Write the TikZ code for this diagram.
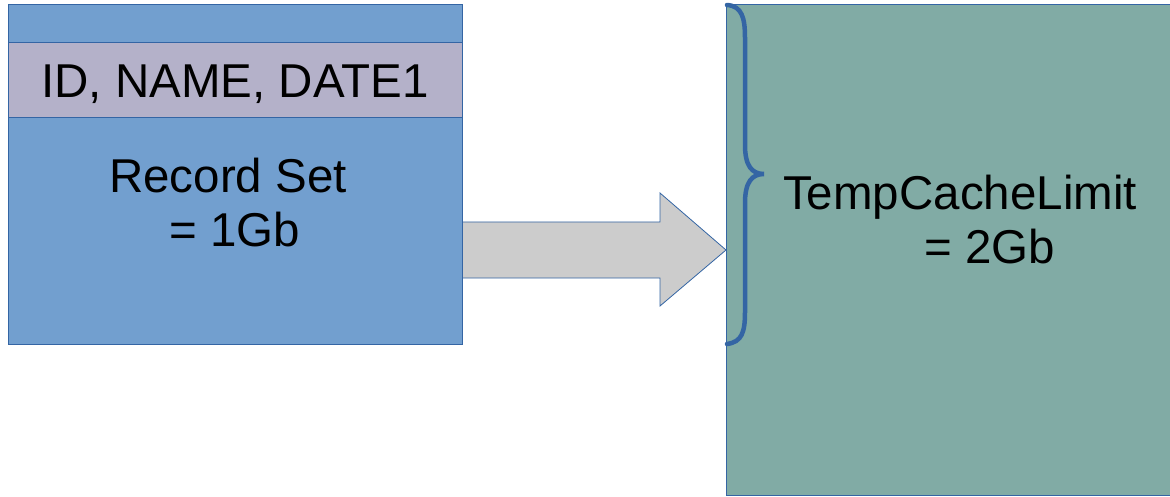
\documentclass[tikz,border=0pt]{standalone}
\usepackage{fontspec}
\setmainfont{Liberation Sans}
\begin{document}
\begin{tikzpicture}[x=1pt,y=-1pt,
  edge/.style={draw=edgeblue, line width=1pt},
  blockbox/.style={edge, rectangle, inner sep=0pt, anchor=north west},
  label/.style={font=\fontsize{47.5}{54}\selectfont, text=black, align=center, inner sep=0pt}]
\definecolor{edgeblue}{HTML}{3465A4}
\definecolor{setblue}{HTML}{729FCF}
\definecolor{headgray}{HTML}{B4B1C9}
\definecolor{cachegreen}{HTML}{81ABA5}
\definecolor{arrowgray}{HTML}{CCCCCC}
\useasboundingbox (0,0) rectangle (1170,497);

% record set block with its column header band
\node[blockbox, fill=setblue, minimum width=454pt, minimum height=340pt] (rs) at (8,4) {};
\node[blockbox, fill=headgray, minimum width=454pt, minimum height=75pt] (hdr) at (8,42) {};
\node[label, anchor=base] (hdrtxt) at (235,98) {ID, NAME, DATE1};
\node[label, anchor=base] (rstxt1) at (228,193) {Record Set};
\node[label, anchor=base] (rstxt2) at (235,247) {= 1Gb};

% temp cache block (runs past the right edge)
\node[blockbox, fill=cachegreen, minimum width=460pt, minimum height=491pt] (tc) at (726,4) {};
\node[label, anchor=base] (tctxt1) at (960,210) {TempCacheLimit};
\node[label, anchor=base] (tctxt2) at (990,263) {= 2Gb};

% block arrow from the record set to the cache
\coordinate (tail) at (rs.east |- 0,250);
\coordinate (tip) at (tc.west |- 0,250);
\draw[edge, fill=arrowgray, line width=0.8pt]
  ([yshift=28pt]tail) -- (660,222) -- (660,193) -- (tip) -- (660,306) -- (660,278)
  -- ([yshift=-28pt]tail);

% curly brace over the upper part of the cache
\draw[edgeblue, line width=4.5pt, line cap=round]
  (727,5) .. controls (742,6) and (745,18) .. (745,38)
  -- (745,145) .. controls (745,166) and (752,174) .. (764,174)
  .. controls (752,174) and (745,182) .. (745,203)
  -- (745,312) .. controls (745,332) and (742,342) .. (727,344);
\end{tikzpicture}
\end{document}
